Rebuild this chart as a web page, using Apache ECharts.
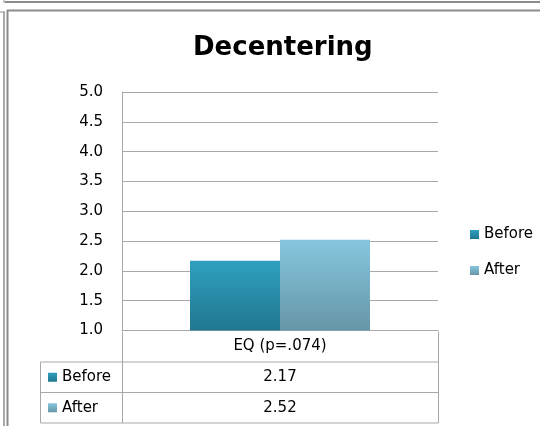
<!DOCTYPE html>
<html>
<head>
<meta charset="utf-8">
<script src="https://cdn.jsdelivr.net/npm/echarts@6/dist/echarts.min.js"></script>
<style>
  html, body { margin: 0; padding: 0; background: #fff; }
  #chart { width: 540px; height: 426px; }
</style>
</head>
<body>
<div id="chart"></div>
<script>
// Chart content
const titleText = 'Decentering';
const categories = ['EQ (p=.074)'];
const seriesNames = ['Before', 'After'];
const beforeValues = [2.17];
const afterValues = [2.52];
const yTicks = ['1.0', '1.5', '2.0', '2.5', '3.0', '3.5', '4.0', '4.5', '5.0'];

const FONT = 'DejaVu Sans';
const LINE = '#a8a8a8';
const FRAME = '#8c8c8c';

function grad(top, bottom) {
  return new echarts.graphic.LinearGradient(0, 0, 0, 1, [
    { offset: 0, color: top },
    { offset: 1, color: bottom }
  ]);
}
const colBefore = () => grad('#2fa0bf', '#217790');
const colAfter = () => grad('#86c6de', '#6696a7');

const chart = echarts.init(document.getElementById('chart'), null, { renderer: 'canvas' });

// Plot area and data table geometry
const gridLeft = 122, gridRight = 438, gridTop = 92, gridBottom = 330.5;
const rowH = 30.5;
const tableLeft = 40;

const option = {
  animation: false,
  backgroundColor: '#fff',
  title: {
    text: titleText,
    left: 193,
    top: 35,
    padding: 0,
    textStyle: { fontFamily: FONT, fontWeight: 'bold', fontSize: 26, color: '#000' }
  },
  legend: {
    orient: 'vertical',
    left: 470,
    top: 227,
    padding: 0,
    itemWidth: 9,
    itemHeight: 9,
    itemGap: 21,
    icon: 'rect',
    textStyle: { fontFamily: FONT, fontSize: 15, color: '#000' },
    data: seriesNames
  },
  grid: {
    left: gridLeft,
    right: 540 - gridRight,
    top: gridTop,
    bottom: 426 - gridBottom,
    containLabel: false
  },
  xAxis: {
    type: 'category',
    data: categories,
    axisLine: { show: true, lineStyle: { color: LINE, width: 1 } },
    axisTick: { show: false },
    axisLabel: { margin: 8, fontFamily: FONT, fontSize: 15, color: '#000' }
  },
  yAxis: {
    type: 'value',
    min: 1,
    max: 5,
    interval: 0.5,
    axisLine: { show: true, lineStyle: { color: LINE, width: 1 } },
    axisTick: { show: false },
    axisLabel: {
      margin: 19,
      fontFamily: FONT,
      fontSize: 15,
      color: '#000',
      padding: [2, 0, 0, 0],
      formatter: (v) => yTicks[Math.round((v - 1) / 0.5)]
    },
    splitLine: { show: true, lineStyle: { color: LINE, width: 1 } }
  },
  series: [
    {
      name: seriesNames[0],
      type: 'bar',
      data: beforeValues,
      barWidth: 90,
      barGap: '0%',
      itemStyle: { color: colBefore(), shadowBlur: 3, shadowColor: 'rgba(0,0,0,0.25)', shadowOffsetX: 1, shadowOffsetY: 1 }
    },
    {
      name: seriesNames[1],
      type: 'bar',
      data: afterValues,
      barWidth: 90,
      barGap: '0%',
      itemStyle: { color: colAfter(), shadowBlur: 3, shadowColor: 'rgba(0,0,0,0.25)', shadowOffsetX: 1, shadowOffsetY: 1 }
    }
  ]
};
chart.setOption(option);

// Data table below the plot, plus page frame lines
function line(x1, y1, x2, y2, color, w) {
  return { type: 'line', silent: true, shape: { x1, y1, x2, y2 }, style: { stroke: color, lineWidth: w || 1 } };
}
const catX = chart.convertToPixel({ xAxisIndex: 0 }, categories[0]);
const rowVals = [beforeValues[0], afterValues[0]];
const rowColors = [colBefore(), colAfter()];
const elements = [];
const y0 = Math.round(gridBottom) + 0.5;
const y1 = y0 + rowH, y2 = y1 + rowH, y3 = y2 + rowH;
const xL = tableLeft + 0.5, xM = gridLeft + 0.5, xR = gridRight + 0.5;
elements.push(line(xM, y0, xM, y3, LINE));
elements.push(line(xR, y0, xR, y3, LINE));
elements.push(line(xL, y1, xL, y3, LINE));
elements.push(line(xL, y1, xR, y1, LINE));
elements.push(line(xL, y2, xR, y2, LINE));
elements.push(line(xL, y3, xR, y3, LINE));
seriesNames.forEach((name, i) => {
  const cy = y1 + rowH * i + rowH / 2;
  elements.push({ type: 'rect', silent: true, shape: { x: 48, y: cy - 4.5, width: 9, height: 9 }, style: { fill: rowColors[i] } });
  elements.push({ type: 'text', silent: true, x: 62, y: cy, style: { text: name, fontFamily: FONT, fontSize: 15, fill: '#000', verticalAlign: 'middle', align: 'left' } });
  elements.push({ type: 'text', silent: true, x: catX, y: cy, style: { text: rowVals[i].toFixed(2), fontFamily: FONT, fontSize: 15, fill: '#000', verticalAlign: 'middle', align: 'center' } });
});
// frame borders around the page
elements.push(line(5, 2, 540, 2, FRAME, 2));
elements.push(line(4, 0, 4, 3, FRAME, 1));
elements.push(line(7, 10.5, 540, 10.5, FRAME, 2));
elements.push(line(7.5, 10, 7.5, 426, FRAME, 2));
elements.push(line(0, 12, 5, 12, FRAME, 1));
elements.push(line(4, 12, 4, 426, FRAME, 1.5));
chart.setOption({ graphic: { elements } });
</script>
</body>
</html>
